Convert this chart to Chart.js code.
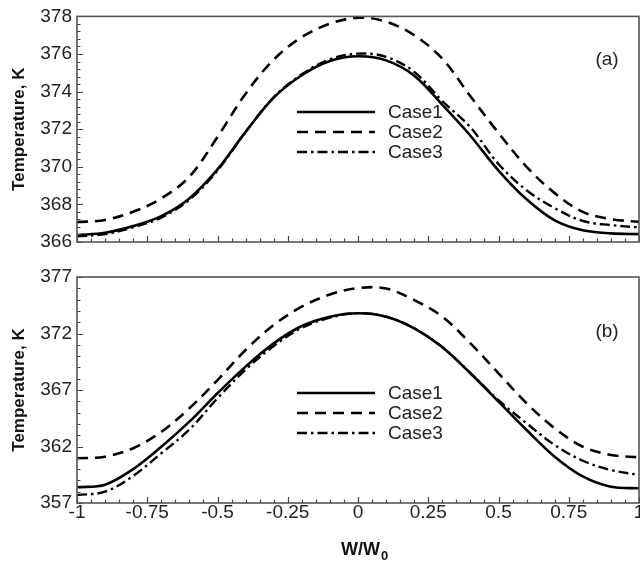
<!DOCTYPE html>
<html>
<head>
<meta charset="utf-8">
<script src="https://cdn.jsdelivr.net/npm/chart.js@4/dist/chart.umd.min.js"></script>
<style>
  html, body { margin: 0; padding: 0; background: #fff; }
  #wrap { position: relative; width: 640px; height: 562px; overflow: hidden; background: #fff; }
  #c1 { position: absolute; left: 0; top: 0; }
  #c2 { position: absolute; left: 0; top: 260px; }
</style>
</head>
<body>
<div id="wrap">
  <canvas id="c1" width="660" height="260"></canvas>
  <canvas id="c2" width="660" height="302"></canvas>
</div>
<script>
// ---- data ----
const xValues = [-1, -0.9, -0.8, -0.7, -0.6, -0.5, -0.4, -0.3, -0.2, -0.1, 0,
                 0.1, 0.2, 0.3, 0.4, 0.5, 0.6, 0.7, 0.8, 0.9, 1];
const seriesNames = ['Case1', 'Case2', 'Case3'];

// panel (a)
const aCase1 = [366.37, 366.49, 366.85, 367.38, 368.32, 369.86, 371.86, 373.68, 374.87, 375.63, 375.88,
                375.66, 374.85, 373.30, 371.65, 369.80, 368.27, 367.15, 366.62, 366.46, 366.42];
const aCase2 = [367.06, 367.17, 367.61, 368.32, 369.47, 371.59, 373.89, 375.70, 376.90, 377.61, 377.93,
                377.72, 377.00, 375.75, 373.75, 371.80, 370.00, 368.60, 367.60, 367.22, 367.07];
const aCase3 = [366.30, 366.42, 366.78, 367.30, 368.25, 369.80, 371.85, 373.70, 374.92, 375.72, 376.02,
                375.85, 375.05, 373.50, 372.10, 370.15, 368.75, 367.80, 367.12, 366.90, 366.78];

// panel (b)
const bCase1 = [358.39, 358.62, 360.00, 361.98, 364.20, 366.71, 369.07, 371.13, 372.66, 373.49, 373.79,
                373.49, 372.46, 370.78, 368.48, 365.97, 363.46, 361.10, 359.35, 358.44, 358.30];
const bCase2 = [360.96, 361.10, 361.85, 363.30, 365.38, 367.88, 370.54, 372.75, 374.37, 375.45, 376.02,
                375.98, 374.96, 373.49, 371.13, 368.48, 365.82, 363.61, 361.98, 361.25, 361.04];
const bCase3 = [357.70, 358.00, 359.40, 361.40, 363.50, 366.27, 368.80, 370.90, 372.50, 373.40, 373.80,
                373.50, 372.46, 370.80, 368.50, 366.10, 364.05, 362.13, 360.74, 359.92, 359.48];

// tick labels
const xTickLabels = [-1, -0.75, -0.5, -0.25, 0, 0.25, 0.5, 0.75, 1];
const xMinorStep = 0.05;
const aYTickLabels = [366, 368, 370, 372, 374, 376, 378];
const aYMinorStep = 0.4;
const bYTickLabels = [357, 362, 367, 372, 377];
const bYMinorStep = 1;

// ---- helpers ----
const FONT = "'Liberation Sans', Arial, Helvetica, sans-serif";
const r3 = v => Math.round(v * 1000) / 1000;

function tickBuilder(majors, step) {
  return function (scale) {
    const min = majors[0], max = majors[majors.length - 1];
    const n = Math.round((max - min) / step);
    const list = [];
    for (let i = 0; i <= n; i++) {
      const v = r3(min + i * step);
      list.push({ value: v, major: majors.some(m => Math.abs(m - v) < 1e-6) });
    }
    scale.ticks = list;
  };
}
function labelCb(value, index, ticks) {
  return ticks[index] && ticks[index].major ? String(value) : '';
}

const styles = [
  { borderDash: [], borderWidth: 2.6 },
  { borderDash: [11, 7], borderWidth: 2.6 },
  { borderDash: [10, 4, 2.5, 4], borderWidth: 2.4 }
];

function makeDatasets(arrs) {
  return arrs.map((arr, k) => ({
    label: seriesNames[k],
    data: xValues.map((x, i) => ({ x: x, y: arr[i] })),
    borderColor: '#000',
    backgroundColor: '#000',
    borderWidth: styles[k].borderWidth,
    borderDash: styles[k].borderDash,
    pointRadius: 0,
    tension: 0.35,
    fill: false
  }));
}

const framePlugin = {
  id: 'frame',
  afterDatasetsDraw(chart, args, opts) {
    const ctx = chart.ctx, a = chart.chartArea;
    const xs = chart.scales.x, ys = chart.scales.y;
    ctx.save();
    ctx.setLineDash([]);
    ctx.strokeStyle = '#444';
    ctx.lineWidth = 1.2;
    ctx.beginPath();
    xs.ticks.forEach(t => {
      const px = Math.round(xs.getPixelForValue(t.value)) + 0.5;
      const len = t.major ? 6 : 3.5;
      ctx.moveTo(px, a.bottom); ctx.lineTo(px, a.bottom - len);
    });
    ys.ticks.forEach(t => {
      const py = Math.round(ys.getPixelForValue(t.value)) + 0.5;
      const len = t.major ? 6 : 3.5;
      ctx.moveTo(a.left, py); ctx.lineTo(a.left + len, py);
    });
    ctx.stroke();
    ctx.strokeStyle = '#555';
    ctx.lineWidth = 1.6;
    ctx.strokeRect(a.left, a.top, a.right - a.left, a.bottom - a.top);

    // legend inside the plot
    const lg = opts.legend;
    chart.data.datasets.forEach((ds, k) => {
      const y = lg.y + k * lg.dy;
      ctx.beginPath();
      ctx.setLineDash(ds.borderDash || []);
      ctx.lineWidth = ds.borderWidth;
      ctx.strokeStyle = ds.borderColor;
      ctx.moveTo(lg.x, y); ctx.lineTo(lg.x + lg.len, y);
      ctx.stroke();
      ctx.setLineDash([]);
      ctx.fillStyle = '#222';
      ctx.font = '19px ' + FONT;
      ctx.textAlign = 'left';
      ctx.textBaseline = 'middle';
      ctx.fillText(ds.label, lg.x + lg.len + 13, y + 1);
    });
    // panel label
    ctx.fillStyle = '#222';
    ctx.font = '19px ' + FONT;
    ctx.textAlign = 'center';
    ctx.textBaseline = 'middle';
    ctx.fillText(opts.tag.text, opts.tag.x, opts.tag.y);

    // x-axis title with subscript
    if (opts.xTitle) {
      const t = opts.xTitle;
      ctx.fillStyle = '#111';
      ctx.textAlign = 'left';
      ctx.textBaseline = 'alphabetic';
      ctx.font = 'bold 18px ' + FONT;
      ctx.fillText(t.main, t.x, t.y);
      const w = ctx.measureText(t.main).width;
      ctx.font = 'bold 13px ' + FONT;
      ctx.fillText(t.sub, t.x + w + 1, t.y + 5);
    }
    ctx.restore();
  }
};

function makeChart(id, arrs, yMajors, yStep, cfg) {
  return new Chart(document.getElementById(id), {
    type: 'line',
    data: { datasets: makeDatasets(arrs) },
    plugins: [framePlugin],
    options: {
      responsive: false,
      animation: false,
      devicePixelRatio: 1,
      layout: { padding: cfg.padding },
      plugins: {
        legend: { display: false },
        tooltip: { enabled: false },
        frame: { legend: cfg.legend, tag: cfg.tag, xTitle: cfg.xTitle }
      },
      scales: {
        x: {
          type: 'linear',
          min: xTickLabels[0],
          max: xTickLabels[xTickLabels.length - 1],
          afterBuildTicks: tickBuilder(xTickLabels, xMinorStep),
          afterFit: s => { s.height = cfg.xHeight; },
          grid: { display: false, drawTicks: false },
          border: { display: false },
          ticks: {
            display: cfg.xLabels,
            autoSkip: false,
            maxRotation: 0,
            padding: -2,
            color: '#222',
            font: { family: FONT, size: 19 },
            callback: labelCb
          },
          title: { display: false }
        },
        y: {
          type: 'linear',
          min: yMajors[0],
          max: yMajors[yMajors.length - 1],
          afterBuildTicks: tickBuilder(yMajors, yStep),
          afterFit: s => { s.width = 77; },
          grid: { display: false, drawTicks: false },
          border: { display: false },
          ticks: {
            autoSkip: false,
            padding: 5,
            color: '#222',
            font: { family: FONT, size: 19 },
            callback: labelCb
          },
          title: {
            display: true,
            text: 'Temperature, K',
            color: '#111',
            font: { family: FONT, size: 17, weight: 'bold' },
            padding: { top: 9, bottom: 0 }
          }
        }
      }
    }
  });
}

makeChart('c1', [aCase1, aCase2, aCase3], aYTickLabels, aYMinorStep, {
  padding: { left: 0, top: 16, right: 21, bottom: 18 },
  xHeight: 0,
  xLabels: false,
  legend: { x: 297, y: 112, dy: 20, len: 78 },
  tag: { text: '(a)', x: 607, y: 60 }
});

makeChart('c2', [bCase1, bCase2, bCase3], bYTickLabels, bYMinorStep, {
  padding: { left: 0, top: 17, right: 21, bottom: 0 },
  xHeight: 59,
  xLabels: true,
  legend: { x: 297, y: 133, dy: 20, len: 78 },
  tag: { text: '(b)', x: 607, y: 72 },
  xTitle: { main: 'W/W', sub: '0', x: 341, y: 295 }
});
</script>
</body>
</html>
